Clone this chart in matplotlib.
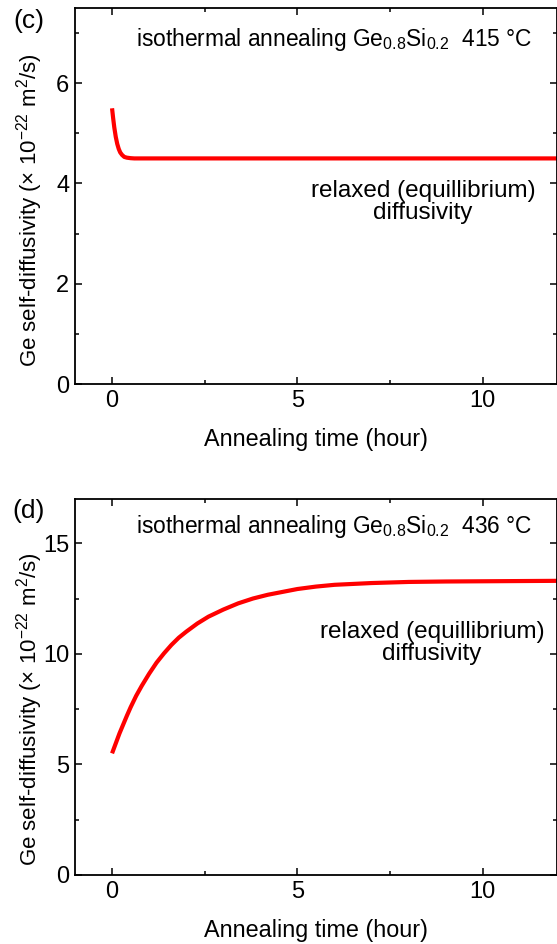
import matplotlib.pyplot as plt

plt.rcParams['font.family'] = ['Liberation Sans', 'DejaVu Sans']
plt.rcParams['mathtext.fontset'] = 'custom'
plt.rcParams['mathtext.rm'] = 'Liberation Sans'
plt.rcParams['mathtext.it'] = 'Liberation Sans:italic'
plt.rcParams['mathtext.bf'] = 'Liberation Sans:bold'

## panel (c) : 415 C, drops to relaxed value
time_c = [0, 0.03, 0.06, 0.1, 0.14, 0.18, 0.22, 0.27, 0.33, 0.4, 0.5, 0.6, 0.8, 1, 2, 4, 6, 8, 10, 12]
diff_c = [5.5, 5.3, 5.12, 4.93, 4.79, 4.69, 4.62, 4.57, 4.53, 4.515, 4.505, 4.5, 4.5, 4.5, 4.5, 4.5, 4.5, 4.5, 4.5, 4.5]

## panel (d) : 436 C, rises to relaxed value
time_d = [0, 0.1, 0.2, 0.3, 0.4, 0.5, 0.65, 0.8, 1, 1.2, 1.4, 1.6, 1.8, 2, 2.3, 2.6, 3, 3.4, 3.8, 4.2, 4.6,
          5, 5.5, 6, 7, 8, 9, 10, 11, 12]
diff_d = [5.5, 5.95, 6.4, 6.8, 7.2, 7.58, 8.1, 8.55, 9.1, 9.6, 10.02, 10.4, 10.73, 11.0, 11.37, 11.68, 12.0,
          12.28, 12.5, 12.67, 12.8, 12.93, 13.04, 13.12, 13.2, 13.25, 13.27, 13.28, 13.29, 13.3]

panels = [
    dict(t=time_c, d=diff_c, temp='415 °C', ylim=7.5, major=2, minor=1, label='(c)',
         rect=[0.1346, 0.5932, 0.8654, 0.3983], title_y=0.915, rel_xy=(0.722, 0.484),
         lab_y=0.978, ylab_y=0.463),
    dict(t=time_d, d=diff_d, temp='436 °C', ylim=17, major=5, minor=2.5, label='(d)',
         rect=[0.1346, 0.0731, 0.8654, 0.3983], title_y=0.926, rel_xy=(0.741, 0.617),
         lab_y=0.459, ylab_y=0.44),
]

fig = plt.figure(figsize=(5.57, 9.44), dpi=100)

for p in panels:
    ax = fig.add_axes(p['rect'])
    ax.plot(p['t'], p['d'], color='#ff0000', linewidth=3.0, solid_capstyle='butt')
    ax.set_xlim(-1, 12)
    ax.set_ylim(0, p['ylim'])
    ax.set_xticks([0, 5, 10])
    ax.set_xticks([2.5, 7.5], minor=True)
    ax.yaxis.set_major_locator(plt.MultipleLocator(p['major']))
    ax.yaxis.set_minor_locator(plt.MultipleLocator(p['minor']))
    ax.tick_params(which='both', direction='in', top=True, right=True, width=1.1, labelsize=17, pad=4)
    ax.tick_params(which='major', length=5)
    ax.tick_params(which='minor', length=3)
    for s in ax.spines.values():
        s.set_linewidth(1.3)
    ax.set_xlabel('Annealing time (hour)', fontsize=16.8, labelpad=12)
    ax.set_ylabel(r'Ge self-diffusivity ($\times$ 10$^{-22}$ m$^2$/s)', fontsize=16)
    ax.yaxis.set_label_coords(-0.063, p['ylab_y'])
    ax.text(0.948, p['title_y'], r'isothermal annealing Ge$_{0.8}$Si$_{0.2}$  ' + p['temp'],
            transform=ax.transAxes, ha='right', va='center', fontsize=16.4)
    ax.text(p['rel_xy'][0], p['rel_xy'][1], 'relaxed (equillibrium)\ndiffusivity',
            transform=ax.transAxes, ha='center', va='center', fontsize=17.5, linespacing=1.0)
    fig.text(0.052, p['lab_y'], p['label'], ha='center', va='center', fontsize=19)

fig.savefig('out.png', dpi=100)
